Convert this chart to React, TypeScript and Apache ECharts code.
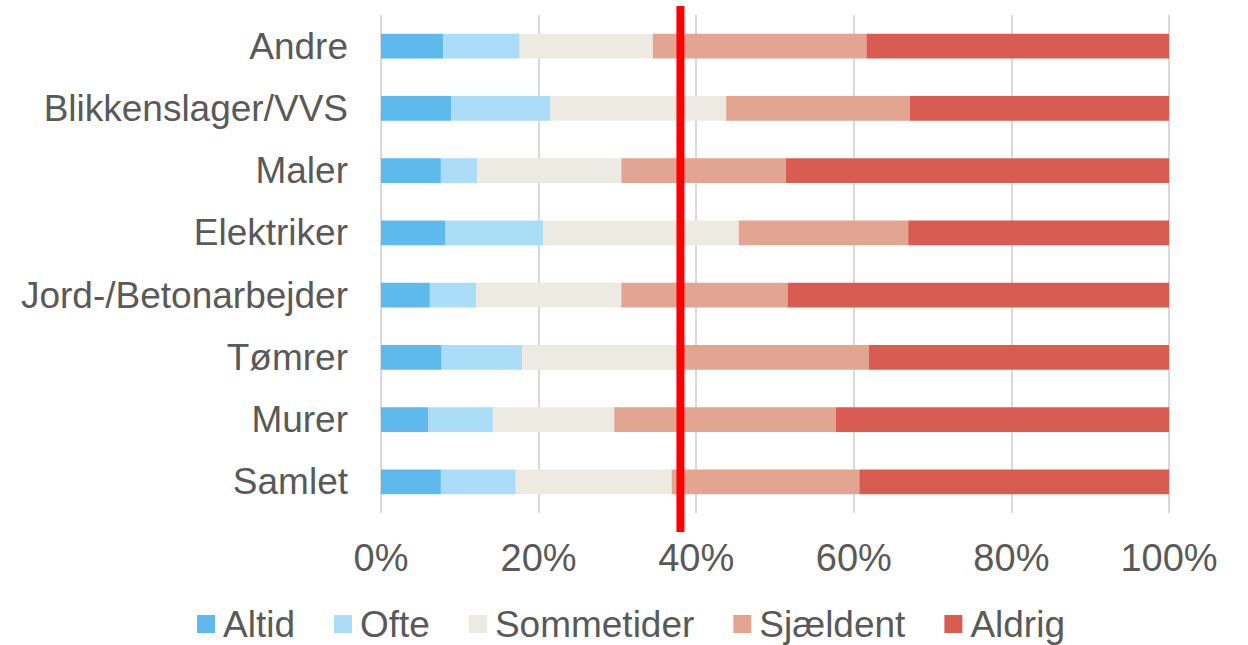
import React, { useEffect, useRef } from "react";
import * as echarts from "echarts";

const categories = ["Samlet", "Murer", "Tømrer", "Jord-/Betonarbejder", "Elektriker", "Maler", "Blikkenslager/VVS", "Andre"];
const seriesNames = ["Altid", "Ofte", "Sommetider", "Sjældent", "Aldrig"];
const altid = [7.6, 6.0, 7.7, 6.2, 8.2, 7.6, 8.9, 7.9];
const ofte = [9.5, 8.2, 10.2, 5.9, 12.4, 4.6, 12.6, 9.7];
const sommetider = [19.8, 15.4, 19.6, 18.4, 24.8, 18.3, 22.3, 16.9];
const sjaeldent = [23.8, 28.1, 24.4, 21.1, 21.5, 20.9, 23.3, 27.1];
const aldrig = [39.3, 42.3, 38.1, 48.4, 33.1, 48.6, 32.9, 38.4];
const colors = ["#5EBAEC", "#ABDDF8", "#EDEBE1", "#E2A591", "#D95C53"];
const threshold = 38;
const xTicks = [0, 20, 40, 60, 80, 100];

export default function App() {
  const ref = useRef<HTMLDivElement>(null);
  useEffect(() => {
    if (!ref.current) return;
    const chart = echarts.init(ref.current, null, { renderer: "svg" });
    const values = [altid, ofte, sommetider, sjaeldent, aldrig];
    const font = "'Liberation Sans', Arial, sans-serif";
    chart.setOption({
      animation: false,
      textStyle: { fontFamily: font },
      grid: { left: 381, right: 79, top: 15, height: 498 },
      legend: {
        top: 605,
        left: 197,
        padding: 0,
        itemWidth: 18,
        itemHeight: 18,
        itemGap: 39,
        icon: "rect",
        textStyle: { fontSize: 37, lineHeight: 38, color: "#595959", fontFamily: font, padding: [0, 0, 0, 3] },
        data: seriesNames,
      },
      xAxis: {
        type: "value",
        min: xTicks[0],
        max: xTicks[xTicks.length - 1],
        interval: 20,
        axisLine: { show: false },
        axisTick: { show: false },
        splitLine: { lineStyle: { color: "#D9D9D9", width: 2 } },
        axisLabel: { formatter: "{value}%", fontSize: 38, color: "#595959", margin: 26, fontFamily: font },
      },
      yAxis: {
        type: "category",
        data: categories,
        axisLine: { show: false },
        axisTick: { show: false },
        axisLabel: { fontSize: 37, color: "#595959", margin: 33, fontFamily: font },
      },
      series: seriesNames.map((n, i) => ({
        name: n,
        type: "bar",
        stack: "total",
        barCategoryGap: "60%",
        itemStyle: { color: colors[i] },
        data: values[i],
      })),
    });
    const x = chart.convertToPixel({ xAxisIndex: 0 }, threshold) as number;
    chart.setOption({
      graphic: [
        {
          type: "line",
          shape: { x1: x, y1: 6, x2: x, y2: 532 },
          style: { stroke: "#FF0000", lineWidth: 8 },
          z: 100,
        },
      ],
    });
    return () => chart.dispose();
  }, []);
  return <div ref={ref} style={{ position: "absolute", left: 0, top: 0, width: 1248, height: 645 }} />;
}
